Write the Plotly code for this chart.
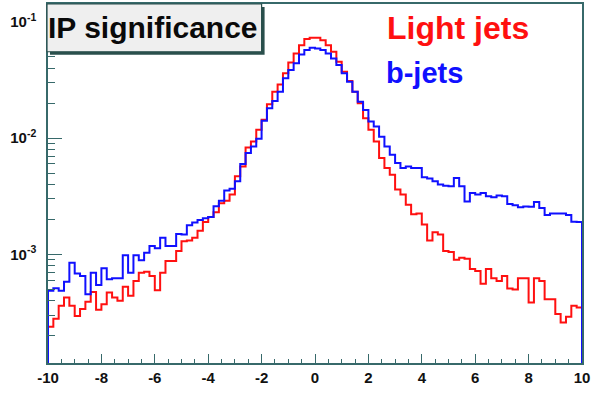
import plotly.graph_objects as go

# ---------------- data ----------------
x_min, x_max, n_bins = -10.0, 10.0, 100

light_jets = [
    2.39e-4, 2.79e-4, 3.61e-4, 4.26e-4, 3.61e-4, 2.96e-4, 3.40e-4, 3.91e-4, 4.76e-4, 3.35e-4,
    3.73e-4, 4.70e-4, 4.26e-4, 3.99e-4, 5.26e-4, 4.40e-4, 5.91e-4, 6.97e-4, 7.11e-4, 6.53e-4,
    4.92e-4, 6.97e-4, 8.77e-4, 8.77e-4, 1.07e-3, 1.30e-3, 1.32e-3, 1.39e-3, 1.60e-3, 1.90e-3,
    2.10e-3, 2.30e-3, 2.75e-3, 2.90e-3, 3.27e-3, 4.70e-3, 5.71e-3, 8.32e-3, 9.37e-3, 1.18e-2,
    1.44e-2, 1.96e-2, 2.51e-2, 2.90e-2, 3.61e-2, 4.48e-2, 5.35e-2, 6.31e-2, 7.11e-2, 7.29e-2,
    7.29e-2, 6.97e-2, 6.31e-2, 5.53e-2, 4.54e-2, 3.73e-2, 3.10e-2, 2.51e-2, 2.00e-2, 1.48e-2,
    1.18e-2, 9.37e-3, 6.74e-3, 5.53e-3, 4.85e-3, 3.61e-3, 3.27e-3, 2.68e-3, 2.22e-3, 2.25e-3,
    1.81e-3, 1.32e-3, 1.55e-3, 1.48e-3, 1.07e-3, 1.05e-3, 9.00e-4, 9.37e-4, 9.20e-4, 7.50e-4,
    7.21e-4, 5.58e-4, 7.50e-4, 6.24e-4, 5.91e-4, 6.53e-4, 5.10e-4, 5.00e-4, 6.24e-4, 6.24e-4,
    3.86e-4, 6.24e-4, 5.91e-4, 4.12e-4, 4.12e-4, 3.07e-4, 2.60e-4, 2.91e-4, 3.61e-4, 3.49e-4,
]

b_jets = [
    4.86e-4, 5.12e-4, 4.86e-4, 5.83e-4, 8.49e-4, 6.84e-4, 6.53e-4, 4.55e-4, 6.97e-4, 5.47e-4,
    7.60e-4, 6.12e-4, 6.24e-4, 6.24e-4, 9.82e-4, 6.97e-4, 9.82e-4, 8.89e-4, 1.035e-3, 1.18e-3,
    1.13e-3, 1.39e-3, 1.18e-3, 1.18e-3, 1.50e-3, 1.48e-3, 1.78e-3, 1.88e-3, 1.98e-3, 2.05e-3,
    2.10e-3, 2.60e-3, 2.90e-3, 3.55e-3, 3.68e-3, 4.25e-3, 5.99e-3, 7.44e-3, 8.49e-3, 9.88e-3,
    1.41e-2, 1.81e-2, 2.09e-2, 2.51e-2, 3.27e-2, 3.86e-2, 4.40e-2, 5.25e-2, 5.72e-2, 5.98e-2,
    5.90e-2, 5.72e-2, 5.35e-2, 4.85e-2, 4.25e-2, 3.61e-2, 3.06e-2, 2.51e-2, 2.06e-2, 1.75e-2,
    1.39e-2, 1.26e-2, 1.03e-2, 8.49e-3, 7.21e-3, 6.11e-3, 5.53e-3, 5.71e-3, 5.53e-3, 5.53e-3,
    4.60e-3, 4.50e-3, 4.25e-3, 4.00e-3, 3.90e-3, 3.85e-3, 4.54e-3, 3.85e-3, 2.85e-3, 3.38e-3,
    3.27e-3, 3.38e-3, 3.16e-3, 3.10e-3, 3.21e-3, 3.16e-3, 2.72e-3, 2.65e-3, 2.55e-3, 2.58e-3,
    2.57e-3, 2.83e-3, 2.51e-3, 2.18e-3, 2.25e-3, 2.25e-3, 2.25e-3, 2.18e-3, 1.91e-3, 1.90e-3,
]

x_tick_vals = [-10, -8, -6, -4, -2, 0, 2, 4, 6, 8, 10]
x_tick_labels = ["-10", "-8", "-6", "-4", "-2", "0", "2", "4", "6", "8", "10"]
y_tick_vals = [1e-3, 1e-2, 1e-1]
y_tick_labels = ["10<sup>-3</sup>", "10<sup>-2</sup>", "10<sup>-1</sup>"]

title_text = "IP significance"
series_names = ["Light jets", "b-jets"]

# ---------------- build ----------------
W, H = 592, 394
ML, MR, MT, MB = 48, 9, 2, 31
PW, PH = W - ML - MR, H - MT - MB

def px(xp):
    return (xp - ML) / PW

def py(yp):
    return (H - MB - yp) / PH

bw = (x_max - x_min) / n_bins
edges = [x_min + bw * i for i in range(n_bins)]
floor = 1e-6

def step_xy(vals):
    xs = [x_min] + edges + [x_max, x_max]
    ys = [floor] + list(vals) + [vals[-1], floor]
    return xs, ys

AX = "#37696a"
RED = "#ff1010"
BLUE = "#1010ff"

fig = go.Figure()
for name, vals, col in [(series_names[0], light_jets, RED), (series_names[1], b_jets, BLUE)]:
    xs, ys = step_xy(vals)
    fig.add_trace(go.Scatter(x=xs, y=ys, mode="lines", name=name,
                             line=dict(color=col, width=2, shape="hv"),
                             showlegend=False, hoverinfo="skip"))

y_minor = [m * 10.0 ** e for e in (-4, -3, -2) for m in range(2, 10)]

font_fam = "Liberation Sans, Arial, sans-serif"

fig.update_layout(
    width=W, height=H,
    margin=dict(l=ML, r=MR, t=MT, b=MB),
    paper_bgcolor="white", plot_bgcolor="white",
    showlegend=False,
    xaxis=dict(
        range=[x_min, x_max], showgrid=False, zeroline=False,
        showline=True, linecolor=AX, linewidth=1.5, mirror=True,
        ticks="inside", ticklen=9, tickwidth=1.2, tickcolor=AX,
        tickmode="array", tickvals=x_tick_vals, ticktext=x_tick_labels,
        minor=dict(ticks="inside", ticklen=4.5, tickwidth=1.2, tickcolor=AX,
                   tickmode="linear", tick0=x_min, dtick=0.5, showgrid=False),
        tickfont=dict(family=font_fam, size=15, color="#111", weight="bold"),
        ticklabelstandoff=0,
    ),
    yaxis=dict(
        type="log", range=[-3.934, -0.846], showgrid=False, zeroline=False,
        showline=True, linecolor=AX, linewidth=1.5, mirror=True,
        ticks="inside", ticklen=14, tickwidth=1.2, tickcolor=AX,
        tickmode="array", tickvals=y_tick_vals, ticktext=y_tick_labels,
        minor=dict(ticks="inside", ticklen=7, tickwidth=1.2, tickcolor=AX,
                   tickmode="array", tickvals=y_minor, showgrid=False),
        tickfont=dict(family=font_fam, size=15, color="#111", weight="bold"),
        ticklabelstandoff=7,
    ),
)

# title box with ROOT-like shadow
fig.add_shape(type="rect", xref="paper", yref="paper",
              x0=px(50), x1=px(265), y0=py(53), y1=py(5),
              fillcolor="#2a4f4c", line=dict(width=0), layer="above")
fig.add_shape(type="rect", xref="paper", yref="paper",
              x0=px(47), x1=px(262), y0=py(50), y1=py(2),
              fillcolor="#efefef", line=dict(color="#2a4f4c", width=1.2), layer="above")
fig.add_annotation(x=px(153.5), y=py(26), xref="paper", yref="paper",
                   text=title_text, showarrow=False, xanchor="center", yanchor="middle",
                   font=dict(family=font_fam, size=30, color="#0a0a0a", weight="bold"))

fig.add_annotation(x=px(458.5), y=py(26), xref="paper", yref="paper",
                   text=series_names[0], showarrow=False, xanchor="center", yanchor="middle",
                   font=dict(family=font_fam, size=32, color=RED, weight="bold"))
fig.add_annotation(x=px(425), y=py(71), xref="paper", yref="paper",
                   text=series_names[1], showarrow=False, xanchor="center", yanchor="middle",
                   font=dict(family=font_fam, size=29, color=BLUE, weight="bold"))

fig.write_html(
    "out.html",
    config={"displayModeBar": False},
    post_script="document.body.style.margin='0';document.body.style.padding='0';"
                "document.body.style.overflow='hidden';",
)
